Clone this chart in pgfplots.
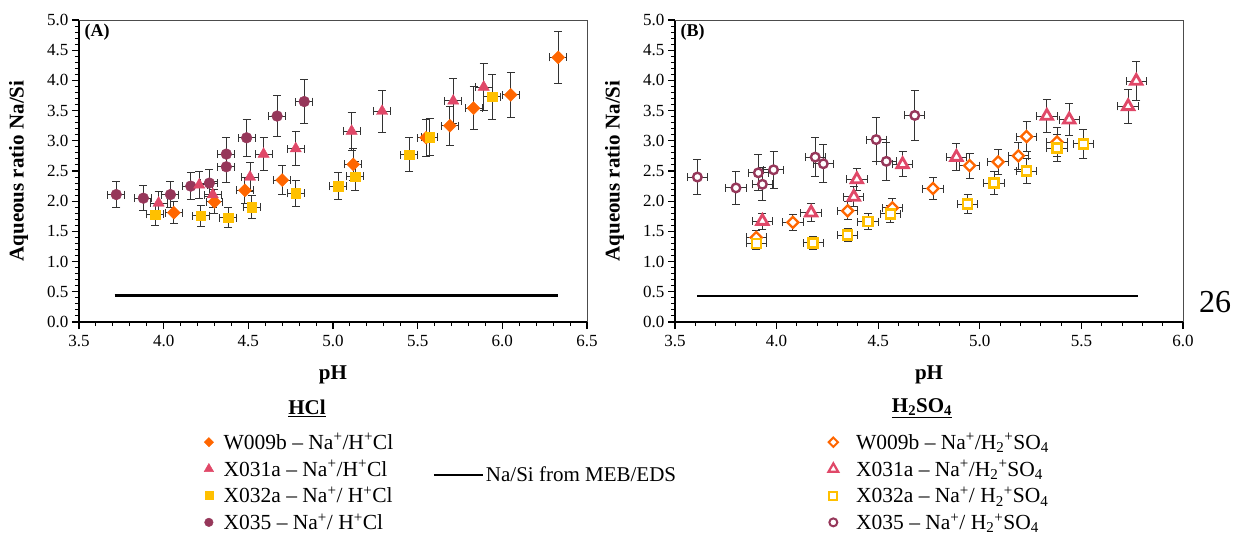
\documentclass[border=0pt]{standalone}
\usepackage{pgfplots}
\usepackage{pgfplotstable}
\pgfplotsset{compat=1.18}
\usepackage{fontspec}
\setmainfont{Liberation Serif}
\definecolor{cOr}{RGB}{255,102,0}
\definecolor{cPk}{RGB}{224,72,104}
\definecolor{cYe}{RGB}{255,192,0}
\definecolor{cMa}{RGB}{150,55,90}
% ---- Panel A (HCl) ----
\pgfplotstableread{
x y
4.06 1.81
4.30 1.99
4.48 2.18
4.70 2.35
5.12 2.61
5.55 3.05
5.69 3.25
5.83 3.54
6.05 3.76
6.33 4.38
}\AW
\pgfplotstableread{
x y
3.97 1.97
4.21 2.27
4.29 2.11
4.51 2.40
4.59 2.78
4.78 2.87
5.11 3.16
5.29 3.49
5.71 3.66
5.89 3.89
}\AX
\pgfplotstableread{
x y
3.95 1.78
4.22 1.76
4.38 1.73
4.52 1.90
4.78 2.13
5.03 2.25
5.13 2.41
5.45 2.77
5.57 3.06
5.94 3.73
}\AY
\pgfplotstableread{
x y
3.72 2.11
3.88 2.05
4.04 2.11
4.16 2.25
4.27 2.30
4.37 2.78
4.37 2.57
4.49 3.05
4.67 3.41
4.83 3.65
}\AM
% ---- Panel B (H2SO4) ----
\pgfplotstableread{
x y
3.90 1.40
4.08 1.65
4.35 1.84
4.57 1.89
4.77 2.21
4.95 2.59
5.09 2.65
5.19 2.75
5.23 3.07
5.38 2.98
}\BW
\pgfplotstableread{
x y
3.93 1.67
4.17 1.81
4.38 2.07
4.395 2.36
4.62 2.61
4.885 2.73
5.33 3.41
5.44 3.35
5.73 3.57
5.77 3.99
}\BX
\pgfplotstableread{
x y
3.90 1.30
4.18 1.31
4.35 1.44
4.45 1.66
4.56 1.79
4.94 1.95
5.07 2.30
5.23 2.50
5.38 2.88
5.51 2.95
}\BY
\pgfplotstableread{
x y
3.61 2.40
3.80 2.22
3.91 2.47
3.93 2.28
3.985 2.52
4.19 2.73
4.23 2.62
4.49 3.02
4.54 2.66
4.68 3.42
}\BM
\pgfplotsset{
 panel/.style={
   scale only axis, width=508pt, height=302pt, anchor=south west,
   ymin=0, ymax=5, ytick={0,0.5,...,5}, minor y tick num=4, minor x tick num=4,
   axis x line*=bottom, axis y line*=left,
   axis line style={line width=1.6pt, black, -},
   tick align=outside, major tick length=7pt, minor tick length=4pt,
   every tick/.style={black, line width=1.2pt},
   every minor tick/.style={black, line width=1pt, minor tick length=4pt},
   /pgf/number format/.cd, fixed, fixed zerofill, precision=1, assume math mode=true, /pgfplots/.cd,
   tick label style={font=\fontsize{17}{20}\selectfont},
   xticklabel style={yshift=-3pt},
   ylabel={Aqueous ratio Na/Si}, xlabel={pH},
   every axis y label/.style={at={(axis description cs:-0.119,0.5)}, rotate=90, anchor=center, font=\fontsize{21}{24}\selectfont\bfseries},
   every axis x label/.style={at={(axis description cs:0.5,-0.175)}, anchor=center, font=\fontsize{21}{24}\selectfont\bfseries},
   clip=false,
   after end axis/.code={\draw[black!70, line width=1pt] (rel axis cs:0,1) -- (rel axis cs:1,1) -- (rel axis cs:1,0);},
   legend style={draw=none, fill=none, font=\fontsize{21.5}{24}\selectfont, anchor=north west, row sep=5.2pt},
   legend cell align=left,
 },
 eb/.style={only marks, mark=none, forget plot, error bars/.cd, y dir=both, y fixed relative=#1, x dir=both, x fixed=0.05,
   error bar style={line width=1pt, black!80}, error mark options={rotate=90, line width=1pt, black!80, mark size=4pt}, /pgfplots/.cd},
}
\begin{document}
\begin{tikzpicture}
\useasboundingbox (0,0) rectangle (1239pt,-535pt);
% ---------------- Panel A ----------------
\begin{axis}[panel, at={(79pt,-322pt)}, xmin=3.5, xmax=6.5, xtick={3.5,4,...,6.5},
  legend style={at={(axis description cs:0.240,-0.355)}, column sep=8pt}]
\addplot[eb=0.1] table {\AM};
\addplot[eb=0.1] table {\AW};
\addplot[eb=0.1] table {\AX};
\addplot[eb=0.1] table {\AY};
\addplot[only marks, mark=*, mark size=5.4pt, color=cMa, mark options={fill=cMa, draw=cMa}, forget plot] table {\AM};
\addplot[only marks, mark=square*, mark size=4.6pt, color=cOr, mark options={rotate=45, fill=cOr, draw=cOr}, forget plot] table {\AW};
\addplot[only marks, mark=triangle*, mark size=6.5pt, color=cPk, mark options={fill=cPk, draw=cPk}, forget plot] table {\AX};
\addplot[only marks, mark=square*, mark size=4.7pt, color=cYe, mark options={fill=cYe, draw=cYe}, forget plot] table {\AY};
\addplot[black, line width=2.2pt, forget plot] coordinates {(3.71,0.44) (6.33,0.44)};
\addlegendimage{only marks, mark=square*, mark size=3.3pt, color=cOr, mark options={rotate=45}}
\addlegendentry{W009b – Na\textsuperscript{+}/H\textsuperscript{+}Cl}
\addlegendimage{only marks, mark=triangle*, mark size=5.5pt, color=cPk}
\addlegendentry{X031a – Na\textsuperscript{+}/H\textsuperscript{+}Cl}
\addlegendimage{only marks, mark=square*, mark size=4pt, color=cYe}
\addlegendentry{X032a – Na\textsuperscript{+}/ H\textsuperscript{+}Cl}
\addlegendimage{only marks, mark=*, mark size=4.3pt, color=cMa}
\addlegendentry{X035 – Na\textsuperscript{+}/ H\textsuperscript{+}Cl}
\end{axis}
% line legend
\begin{axis}[at={(79pt,-322pt)}, anchor=south west, scale only axis, width=508pt, height=302pt,
  hide axis, xmin=0, xmax=1, ymin=0, ymax=1,
  legend style={at={(axis description cs:0.69,-0.507)}, anchor=west, draw=none, fill=none, font=\fontsize{21}{24}\selectfont},
  legend image code/.code={\draw[#1] (0pt,0pt) -- (49pt,0pt);}]
\addlegendimage{black, line width=2.2pt}
\addlegendentry{Na/Si from MEB/EDS}
\end{axis}
% ---------------- Panel B ----------------
\begin{axis}[panel, at={(675pt,-322pt)}, xmin=3.5, xmax=6.0, xtick={3.5,4,...,6.0},
  legend style={at={(axis description cs:0.296,-0.355)}, column sep=16pt}]
\addplot[eb=0.12] table {\BM};
\addplot[eb=0.08] table {\BW};
\addplot[eb=0.08] table {\BX};
\addplot[eb=0.08] table {\BY};
\addplot[only marks, mark=*, mark size=4.3pt, color=cMa, mark options={draw=cMa, fill=white, line width=2.4pt}, forget plot] table {\BM};
\addplot[only marks, mark=square*, mark size=3.9pt, color=cOr, mark options={rotate=45, draw=cOr, fill=white, line width=2.3pt}, forget plot] table {\BW};
\addplot[only marks, mark=triangle*, mark size=6.5pt, color=cPk, mark options={draw=cPk, fill=white, line width=2.8pt}, forget plot] table {\BX};
\addplot[only marks, mark=square*, mark size=4.5pt, color=cYe, mark options={draw=cYe, fill=white, line width=2.5pt}, forget plot] table {\BY};
\addplot[black, line width=2.2pt, forget plot] coordinates {(3.61,0.43) (5.78,0.43)};
\addlegendimage{only marks, mark=square*, mark size=3.3pt, color=cOr, mark options={rotate=45, line width=2pt, fill=white}}
\addlegendentry{W009b – Na\textsuperscript{+}/H\textsubscript{2}\textsuperscript{+}SO\textsubscript{4}}
\addlegendimage{only marks, mark=triangle*, mark size=5.5pt, color=cPk, mark options={line width=2.2pt, fill=white}}
\addlegendentry{X031a – Na\textsuperscript{+}/H\textsubscript{2}\textsuperscript{+}SO\textsubscript{4}}
\addlegendimage{only marks, mark=square*, mark size=4pt, color=cYe, mark options={line width=2pt, fill=white}}
\addlegendentry{X032a – Na\textsuperscript{+}/ H\textsubscript{2}\textsuperscript{+}SO\textsubscript{4}}
\addlegendimage{only marks, mark=*, mark size=4pt, color=cMa, mark options={line width=2pt, fill=white}}
\addlegendentry{X035 – Na\textsuperscript{+}/ H\textsubscript{2}\textsuperscript{+}SO\textsubscript{4}}
\end{axis}
% texts
\node[anchor=west, font=\fontsize{18}{20}\selectfont\bfseries] at (81pt,-32pt) {(A)};
\node[anchor=west, font=\fontsize{18}{20}\selectfont\bfseries] at (677pt,-32pt) {(B)};
\node[font=\fontsize{21}{24}\selectfont\bfseries] at (307pt,-408pt) {\underline{HCl}};
\node[font=\fontsize{21}{24}\selectfont\bfseries] at (922pt,-408pt) {\underline{H\textsubscript{2}SO\textsubscript{4}}};
\node[font=\fontsize{32}{36}\selectfont] at (1215pt,-302pt) {26};
\end{tikzpicture}
\end{document}
